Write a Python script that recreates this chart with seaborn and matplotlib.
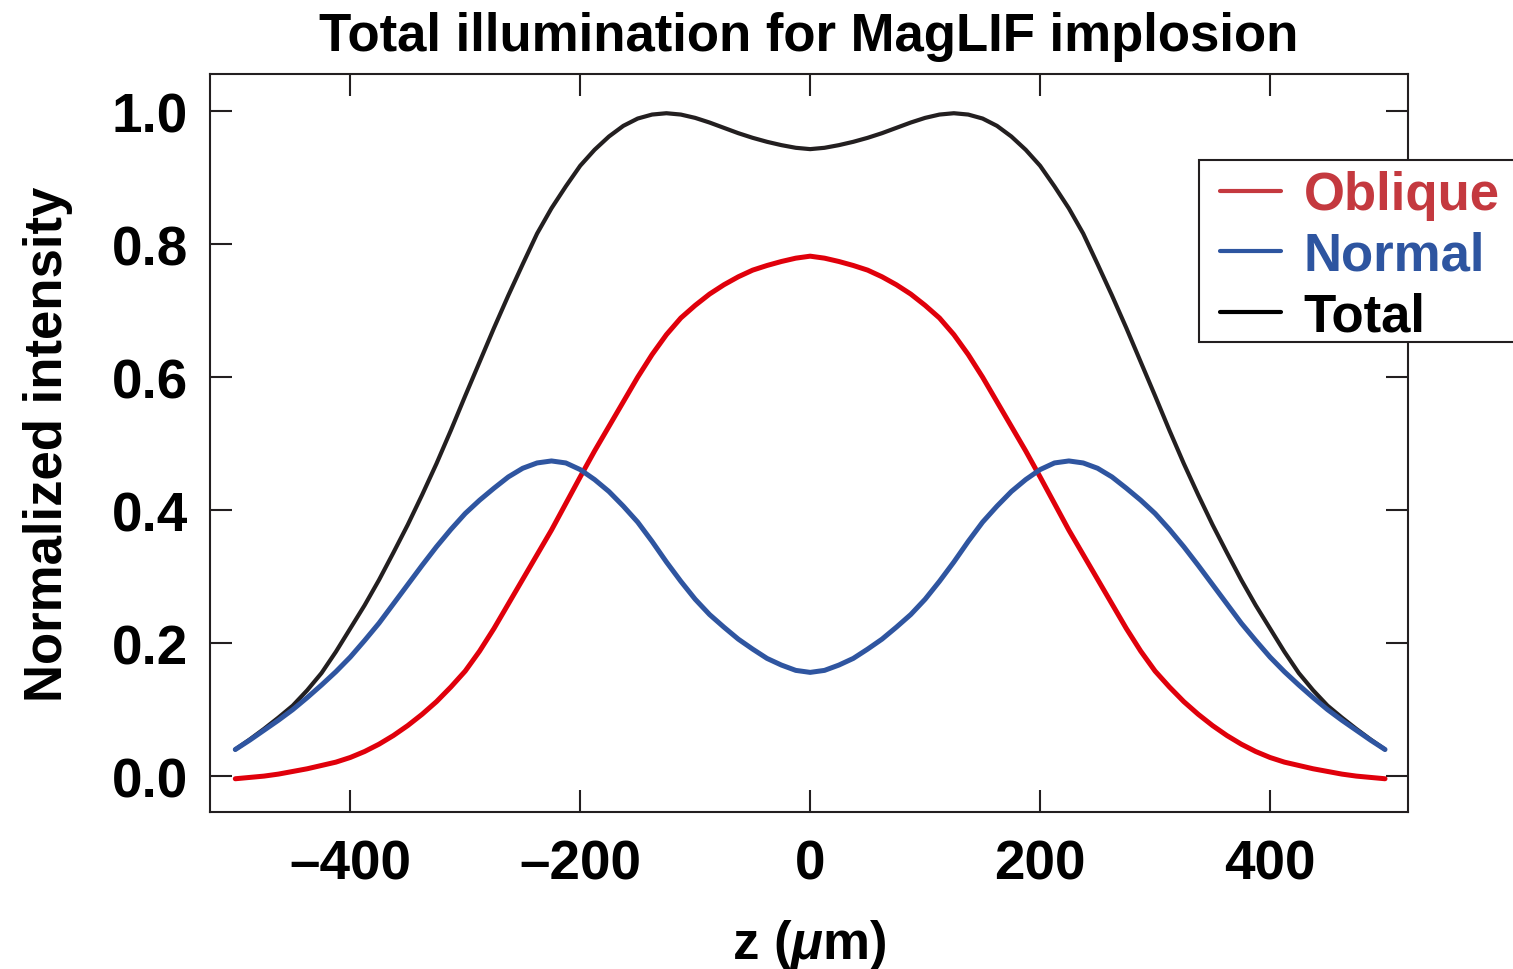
import numpy as np
import pandas as pd
import matplotlib
matplotlib.use("Agg")
import matplotlib.pyplot as plt
from matplotlib.lines import Line2D
from matplotlib.patches import Rectangle
import seaborn as sns

# ---- data (curves are symmetric in z) ----
z_half = [-500, -487.5, -475, -462.5, -450, -437.5, -425, -412.5, -400, -387.5,
          -375, -362.5, -350, -337.5, -325, -312.5, -300, -287.5, -275, -262.5,
          -250, -237.5, -225, -212.5, -200, -187.5, -175, -162.5, -150, -137.5,
          -125, -112.5, -100, -87.5, -75, -62.5, -50, -37.5, -25, -12.5, 0]
oblique_half = [-0.004, -0.002, 0.000, 0.003, 0.007, 0.011, 0.016, 0.021, 0.028, 0.037,
                0.048, 0.061, 0.076, 0.093, 0.112, 0.134, 0.158, 0.188, 0.222, 0.259,
                0.296, 0.333, 0.370, 0.410, 0.450, 0.489, 0.526, 0.563, 0.600, 0.634,
                0.664, 0.689, 0.708, 0.725, 0.739, 0.751, 0.761, 0.768, 0.774, 0.779, 0.782]
normal_half = [0.040, 0.054, 0.069, 0.084, 0.100, 0.118, 0.137, 0.157, 0.179, 0.204,
               0.230, 0.259, 0.288, 0.317, 0.345, 0.371, 0.395, 0.415, 0.433, 0.450,
               0.463, 0.471, 0.474, 0.471, 0.461, 0.446, 0.428, 0.406, 0.382, 0.353,
               0.322, 0.293, 0.266, 0.243, 0.224, 0.206, 0.191, 0.177, 0.167, 0.159, 0.156]
total_half = [0.040, 0.055, 0.071, 0.088, 0.106, 0.129, 0.155, 0.187, 0.222, 0.257,
              0.295, 0.336, 0.378, 0.423, 0.470, 0.520, 0.572, 0.623, 0.674, 0.723,
              0.770, 0.816, 0.854, 0.887, 0.918, 0.942, 0.962, 0.978, 0.989, 0.995,
              0.997, 0.995, 0.990, 0.983, 0.975, 0.967, 0.960, 0.954, 0.949, 0.945, 0.943]

z = z_half + [-v for v in z_half[-2::-1]]
oblique = oblique_half + oblique_half[-2::-1]
normal = normal_half + normal_half[-2::-1]
total = total_half + total_half[-2::-1]

series_names = ["Oblique", "Normal", "Total"]
x_ticks = [-400, -200, 0, 200, 400]
x_tick_labels = ["\u2013400", "\u2013200", "0", "200", "400"]
y_ticks = [0.0, 0.2, 0.4, 0.6, 0.8, 1.0]
y_tick_labels = ["0.0", "0.2", "0.4", "0.6", "0.8", "1.0"]

# ---- style ----
sns.set_theme(style="ticks")
plt.rcParams["font.family"] = ["Liberation Sans", "DejaVu Sans"]
plt.rcParams["font.weight"] = "bold"
plt.rcParams["text.color"] = "black"
plt.rcParams["axes.labelcolor"] = "black"
plt.rcParams["xtick.labelcolor"] = "black"
plt.rcParams["ytick.labelcolor"] = "black"
plt.rcParams["mathtext.fontset"] = "custom"
plt.rcParams["mathtext.it"] = "Liberation Sans:italic:bold"
plt.rcParams["mathtext.rm"] = "Liberation Sans:bold"

FS = 38
FS_TICK = 39.5
frame_col = "#231f20"
line_colors = {"Oblique": "#e0000b", "Normal": "#2f55a0", "Total": "#231f20"}
legend_colors = {"Oblique": "#c4393f", "Normal": "#2e55a0", "Total": "#000000"}

W, H = 1513, 970
fig = plt.figure(figsize=(W / 100, H / 100), dpi=100)
ax = fig.add_axes([210 / W, 1 - 813 / H, (1408 - 210) / W, (813 - 75) / H])

df = pd.DataFrame({"z": z, "Oblique": oblique, "Normal": normal, "Total": total})
sns.lineplot(data=df, x="z", y="Total", ax=ax, color=line_colors["Total"], linewidth=3.0)
sns.lineplot(data=df, x="z", y="Oblique", ax=ax, color=line_colors["Oblique"], linewidth=3.6)
sns.lineplot(data=df, x="z", y="Normal", ax=ax, color=line_colors["Normal"], linewidth=3.6)

ax.set_xlim(-522, 520)
ax.set_ylim(-0.054, 1.056)
ax.set_xticks(x_ticks)
ax.set_xticklabels(x_tick_labels)
ax.set_yticks(y_ticks)
ax.set_yticklabels(y_tick_labels)

for s in ax.spines.values():
    s.set_visible(True)
    s.set_linewidth(1.5)
    s.set_color(frame_col)

ax.tick_params(axis="both", which="major", direction="in", length=16, width=1.5,
               color=frame_col, labelsize=FS_TICK, labelcolor="black",
               top=True, right=True)
ax.tick_params(axis="x", pad=19)
ax.tick_params(axis="y", pad=16)
for lab in ax.get_xticklabels() + ax.get_yticklabels():
    lab.set_fontweight("bold")

ax.set_xlabel(r"z ($\mu$m)", fontsize=FS, fontweight="bold", labelpad=19, color="black")
ax.set_ylabel("Normalized intensity", fontsize=FS, fontweight="bold", labelpad=28,
              color="black")
ax.set_title("Total illumination for MagLIF implosion", fontsize=FS,
             fontweight="bold", pad=17, color="black")

# legend frame (extends past the right edge of the figure, as in the reference)
fig.patches.append(Rectangle((1199 / W, 1 - 343 / H), (1540 - 1199) / W, (343 - 161) / H,
                             transform=fig.transFigure, fill=True, facecolor="white",
                             edgecolor=frame_col, linewidth=1.5, zorder=5))
handles = [Line2D([0], [0], color=legend_colors[n], linewidth=3.0) for n in series_names]
leg = fig.legend(handles, series_names, loc="upper left",
                 bbox_to_anchor=(1220 / W, 1 - 171 / H),
                 fontsize=FS, frameon=False, handlelength=1.16,
                 handletextpad=0.42, labelspacing=0.2, borderpad=0.0,
                 borderaxespad=0)
leg.set_zorder(6)
for t, n in zip(leg.get_texts(), series_names):
    t.set_color(legend_colors[n])
    t.set_fontweight("bold")

fig.savefig("out.png", dpi=100)
